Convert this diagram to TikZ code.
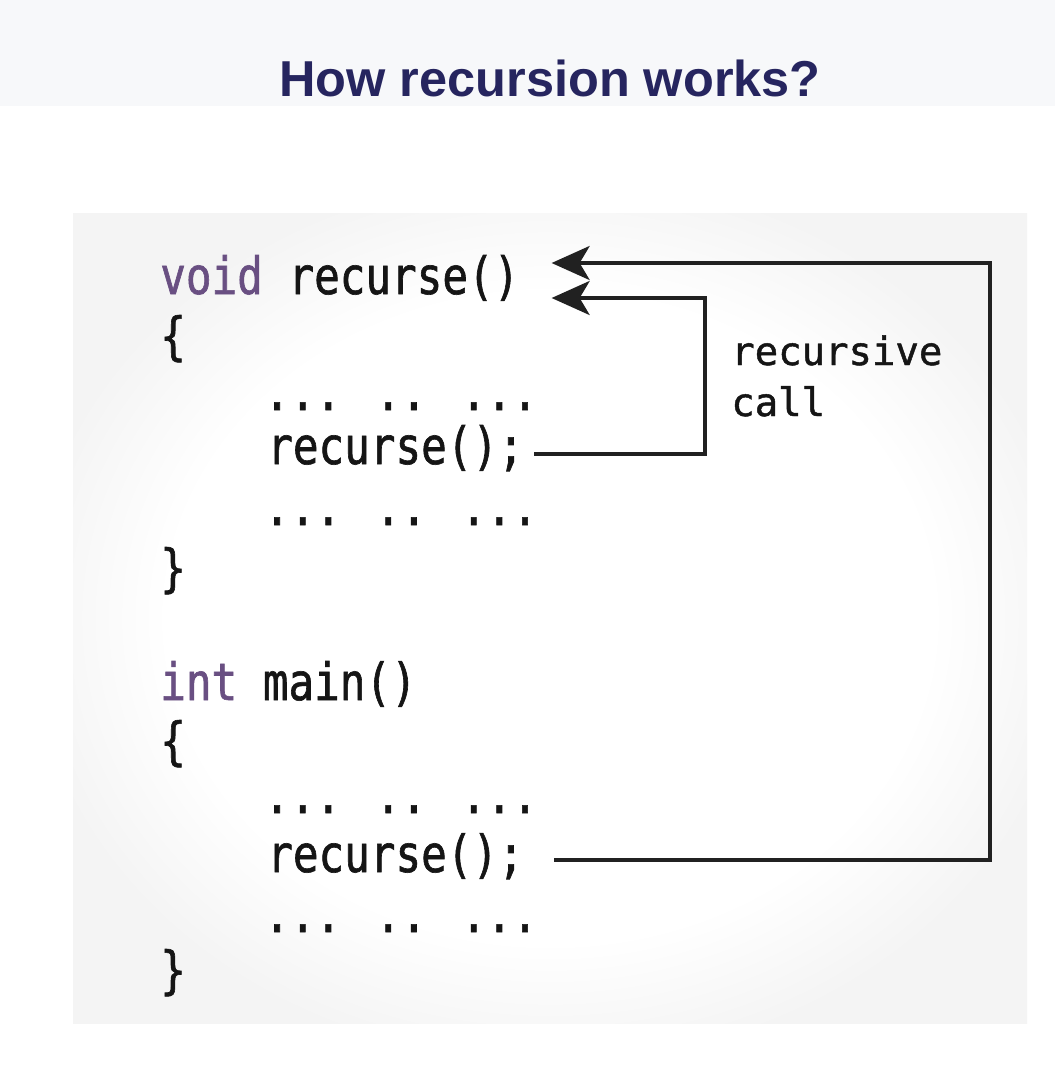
\documentclass[tikz,border=0pt]{standalone}
\usepackage{fontspec}
\usepackage{xcolor}
\usetikzlibrary{arrows.meta}
\newfontfamily\titlefont{Liberation Sans}
\newfontfamily\codefont[FakeStretch=0.83, FakeBold=1.2]{DejaVu Sans Mono}
\newfontfamily\notefont[FakeBold=1.2]{DejaVu Sans Mono}
\definecolor{band}{HTML}{F7F8FA}
\definecolor{titleblue}{HTML}{26255F}
\definecolor{keyword}{HTML}{694F82}
\definecolor{ink}{HTML}{151515}
\pgfdeclareradialshading{panelglow}{\pgfpoint{0bp}{0bp}}{%
  color(0bp)=(white); color(20bp)=(white); color(28bp)=(gray!9); color(50bp)=(gray!9)}

\begin{document}
\begin{tikzpicture}[
    x=0.025cm, y=-0.025cm,
    >={Stealth[length=0.95cm, width=0.85cm, inset=0.25cm]},
    code/.style={anchor=base west, inner sep=0pt, text=ink,
                 font=\codefont\fontsize{36.5}{40}\selectfont},
    note/.style={anchor=base west, inner sep=0pt, text=ink,
                 font=\notefont\fontsize{27.7}{36.3}\selectfont},
    flow/.style={->, line width=2.6pt, draw=ink!95}
  ]

    % --- page, band and panel ---
    \useasboundingbox (0,0) rectangle (1055,1073);
    \fill[white] (0,0) rectangle (1055,1073);
    \fill[band] (0,0) rectangle (1055,106);
    \shade[shading=panelglow] (73,213) rectangle (1027,1023);

    % --- title ---
    \node[anchor=base, inner sep=0pt, text=titleblue,
          font=\titlefont\bfseries\fontsize{35.9}{40}\selectfont] (title)
      at (550,96) {How recursion works?};

    % --- recurse() ---
    \node[code] (head)   at (160,294) {\textcolor{keyword}{void} recurse()};
    \node[code] (hopen)  at (160,354) {\{};
    \node[code] (hdots1) at (264,410) {... .. ...};
    \node[code] (fcall)  at (267,464) {recurse();};
    \node[code] (hdots2) at (264,525) {... .. ...};
    \node[code] (hclose) at (160,586) {\}};

    % --- main() ---
    \node[code] (mhead)  at (160,700) {\textcolor{keyword}{int} main()};
    \node[code] (mopen)  at (160,759) {\{};
    \node[code] (mdots1) at (264,813) {... .. ...};
    \node[code] (mcall)  at (267,872) {recurse();};
    \node[code] (mdots2) at (264,932) {... .. ...};
    \node[code] (mclose) at (160,988) {\}};

    % --- label ---
    \node[note] (rlabel) at (731,365) {recursive};
    \node[note] (clabel) at (731,416) {call};

    % --- calls back to the head ---
    \draw[flow] ([shift={(10,-10)}]fcall.base east) -- ++(171,0)
      |- ([shift={(32,4)}]head.base east);
    \draw[flow] ([shift={(30,-12)}]mcall.base east) -- ++(436,0)
      |- ([shift={(32,-31)}]head.base east);

\end{tikzpicture}
\end{document}
